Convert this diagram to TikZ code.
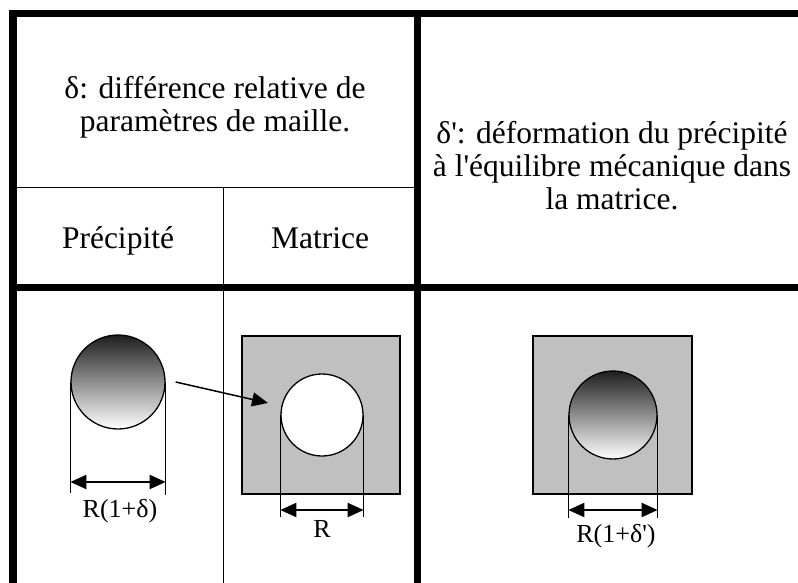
\documentclass[tikz,border=0pt]{standalone}
\usepackage{fontspec}
\setmainfont{Liberation Serif}
\usetikzlibrary{arrows.meta,positioning,calc}
\definecolor{matgray}{RGB}{192,192,192}

\begin{document}
\begin{tikzpicture}[x=1pt, y=-1pt,
        heavy/.style={line width=7.5pt},
        rule/.style={line width=1pt},
        head/.style={font=\fontsize{31.5}{33}\selectfont, align=center, inner sep=0pt},
        dimtext/.style={font=\fontsize{26}{30}\selectfont, inner sep=0pt, anchor=base},
        ball/.style={circle, draw, line width=1.3pt, inner sep=0pt, top color=black!88, bottom color=white},
        hole/.style={circle, draw, line width=1.3pt, inner sep=0pt, fill=white},
        host/.style={draw, line width=1.3pt, fill=matgray, inner sep=0pt},
        dim/.style={{Triangle[length=16pt,width=14pt]}-{Triangle[length=16pt,width=14pt]}, line width=2pt},
        pointer/.style={-{Triangle[length=16pt,width=14pt]}, line width=1.5pt}
    ]
        \useasboundingbox (0,0) rectangle (798,583);

        % grid of the table
        \draw[rule] (13,187) -- (417,187);
        \draw[rule] (223,187) -- (223,583);
        \draw[heavy] (13,10) -- (13,583);
        \draw[heavy] (9.25,13.5) -- (798,13.5);
        \draw[heavy] (417.5,10) -- (417.5,583);
        \draw[heavy] (13,287.5) -- (798,287.5);

        \node[head] (delta) at (215,107) {δ: différence relative de\\paramètres de maille.};
        \node[head, anchor=base] (prec) at (118,248) {Précipité};
        \node[head, anchor=base] (matr) at (320,248) {Matrice};
        \node[head] (deltap) at (612,166) {δ\textquotesingle: déformation du précipité\\à l\textquotesingle équilibre mécanique dans\\la matrice.};

        % free precipitate
        \node[ball, minimum size=94] (p1) at (118,382) {};
        \draw[rule] (p1.west) -- ++(0,111);
        \draw[rule] (p1.east) -- ++(0,113);
        \draw[dim] (p1.west |- 0,482) -- (p1.east |- 0,482);
        \node[dimtext] (r1) at (120,517) {R(1+δ)};

        % matrix with its hole
        \node[host, minimum width=158, minimum height=158] (m1) at (321,415) {};
        \node[hole, minimum size=82] (h1) at (322,415) {};
        \draw[rule] (h1.west) -- ++(0,102);
        \draw[rule] (h1.east) -- ++(0,102);
        \draw[dim] (h1.west |- 0,510) -- (h1.east |- 0,510);
        \node[dimtext] (r2) at (322,537) {R};

        \coordinate (aim) at (268,403);
        \draw[pointer] ([xshift=10]p1.east) -- (aim);

        % precipitate in the matrix
        \node[host, minimum width=159, minimum height=158] (m2) at (612.5,415) {};
        \node[ball, minimum size=88] (p2) at (613,415) {};
        \draw[rule] (p2.west) -- ++(0,103);
        \draw[rule] (p2.east) -- ++(0,103);
        \draw[dim] (p2.west |- 0,510) -- (p2.east |- 0,510);
        \node[dimtext] (r3) at (616,542) {R(1+δ\textquotesingle)};
    \end{tikzpicture}
\end{document}
